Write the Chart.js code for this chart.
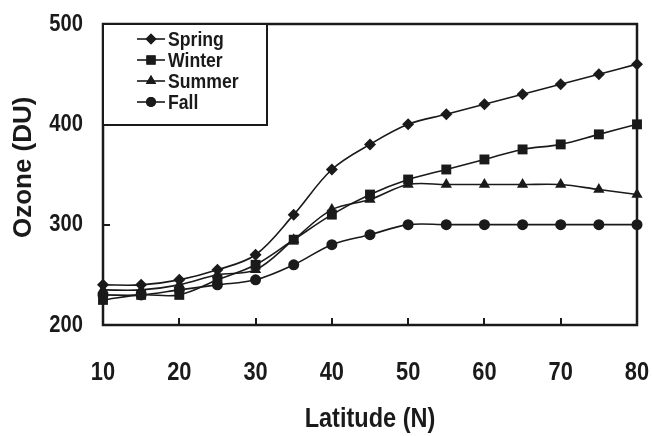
<!DOCTYPE html>
<html>
<head>
<meta charset="utf-8">
<script src="https://cdn.jsdelivr.net/npm/chart.js@4"></script>
<style>
    html, body { margin: 0; padding: 0; background: #fff; }
    #wrap { width: 652px; height: 436px; }
</style>
</head>
<body>
<div id="wrap"><canvas id="myChart" width="652" height="436"></canvas></div>
<script>
// Chart data
const latitudes = [10, 15, 20, 25, 30, 35, 40, 45, 50, 55, 60, 65, 70, 75, 80];
const spring = [240, 240, 245, 255, 270, 310, 355, 380, 400, 410, 420, 430, 440, 450, 460];
const winter = [225, 230, 230, 245, 260, 285, 310, 330, 345, 355, 365, 375, 380, 390, 400];
const summer = [235, 235, 240, 250, 255, 285, 315, 325, 340, 340, 340, 340, 340, 335, 330];
const fall = [230, 230, 235, 240, 245, 260, 280, 290, 300, 300, 300, 300, 300, 300, 300];
const seriesNames = ['Spring', 'Winter', 'Summer', 'Fall'];
const xTicks = [10, 20, 30, 40, 50, 60, 70, 80];
const yTicks = [200, 300, 400, 500];

const FONT = "'Liberation Sans', Arial, sans-serif";
const INK = '#1a1a1a';
const SQUASH = 0.84; // the reference uses a narrow bold face

// Marker styles per series
const markers = [
    { style: 'rectRot', radius: 6 },
    { style: 'rect', radius: 7 },
    { style: 'triangle', radius: 6.5 },
    { style: 'circle', radius: 5.5 }
];

function toPoints(values) {
    return latitudes.map((lat, i) => ({ x: lat, y: values[i] }));
}

const allSeries = [spring, winter, summer, fall];
const datasets = allSeries.map((values, i) => ({
    label: seriesNames[i],
    data: toPoints(values),
    borderColor: INK,
    backgroundColor: INK,
    borderWidth: 1.6,
    pointStyle: markers[i].style,
    pointRadius: markers[i].radius,
    pointBorderWidth: 0,
    tension: 0.35,
    clip: false
}));

// Draws the frame, the inward tick marks and the boxed legend
const framePlugin = {
    id: 'frame',
    afterDatasetsDraw(chart) {
        const ctx = chart.ctx;
        const a = chart.chartArea;
        const xs = chart.scales.x;
        const ys = chart.scales.y;
        ctx.save();
        ctx.strokeStyle = INK;
        ctx.lineWidth = 2.5;
        ctx.strokeRect(a.left, a.top, a.right - a.left, a.bottom - a.top);

        // inward ticks
        ctx.lineWidth = 2;
        ctx.beginPath();
        xTicks.forEach(v => {
            const px = Math.round(xs.getPixelForValue(v));
            ctx.moveTo(px, a.bottom);
            ctx.lineTo(px, a.bottom - 7);
        });
        yTicks.forEach(v => {
            const py = Math.round(ys.getPixelForValue(v));
            ctx.moveTo(a.left, py);
            ctx.lineTo(a.left + 7, py);
        });
        ctx.stroke();

        // legend box
        ctx.lineWidth = 2;
        ctx.fillStyle = '#fff';
        ctx.fillRect(a.left, a.top, 164, 101);
        ctx.strokeRect(a.left, a.top, 164, 101);

        ctx.font = 'bold 21px ' + FONT;
        ctx.textBaseline = 'middle';
        ctx.textAlign = 'left';
        chart.data.datasets.forEach((ds, i) => {
            const y = a.top + 15 + i * 21;
            const x0 = a.left + 34;
            ctx.strokeStyle = INK;
            ctx.lineWidth = 1.6;
            ctx.beginPath();
            ctx.moveTo(x0, y);
            ctx.lineTo(x0 + 28, y);
            ctx.stroke();
            ctx.fillStyle = INK;
            Chart.helpers.drawPoint(ctx, { pointStyle: ds.pointStyle, radius: ds.pointRadius - 0.5, borderWidth: 0 }, x0 + 14, y);
            ctx.fill();
            ctx.fillText(ds.label, x0 + 31, y + 1);
        });
        ctx.restore();
    }
};

const ctx = document.getElementById('myChart').getContext('2d');

// Narrow the horizontal text (no narrow font installed); the rotated title stays as is
const plainFillText = ctx.fillText;
ctx.fillText = function(text, x, y) {
    if (String(text).indexOf('Ozone') !== -1) {
        return plainFillText.call(this, text, x, y);
    }
    this.save();
    this.translate(x, y);
    this.scale(SQUASH, 1);
    plainFillText.call(this, text, 0, 0);
    this.restore();
};

function noPadding(scale) {
    scale.paddingLeft = 0;
    scale.paddingRight = 0;
    scale.paddingTop = 0;
    scale.paddingBottom = 0;
}

const myChart = new Chart(ctx, {
    type: 'line',
    data: { datasets: datasets },
    options: {
        responsive: false,
        animation: false,
        layout: { padding: { left: 0, top: 24, right: 15, bottom: 0 } },
        plugins: {
            legend: { display: false },
            tooltip: { enabled: false }
        },
        scales: {
            x: {
                type: 'linear',
                min: 10,
                max: 80,
                afterBuildTicks: scale => { scale.ticks = xTicks.map(v => ({ value: v })); },
                afterFit: scale => { scale.height = 111; noPadding(scale); },
                grid: { display: false, drawTicks: false },
                border: { display: false },
                ticks: {
                    color: INK,
                    padding: 32,
                    maxRotation: 0,
                    autoSkip: false,
                    font: { family: FONT, size: 26, weight: 'bold' }
                },
                title: {
                    display: true,
                    text: 'Latitude (N)',
                    color: INK,
                    padding: { top: 0, bottom: 0 },
                    font: { family: FONT, size: 28, weight: 'bold' }
                }
            },
            y: {
                min: 200,
                max: 500,
                afterBuildTicks: scale => { scale.ticks = yTicks.map(v => ({ value: v })); },
                afterFit: scale => { scale.width = 103; noPadding(scale); },
                grid: { display: false, drawTicks: false },
                border: { display: false },
                ticks: {
                    color: INK,
                    padding: 20,
                    font: { family: FONT, size: 24, weight: 'bold' }
                },
                title: {
                    display: true,
                    text: '  Ozone (DU)',
                    color: INK,
                    padding: { top: 8, bottom: 0 },
                    font: { family: FONT, size: 26, weight: 'bold' }
                }
            }
        }
    },
    plugins: [framePlugin]
});
</script>
</body>
</html>
